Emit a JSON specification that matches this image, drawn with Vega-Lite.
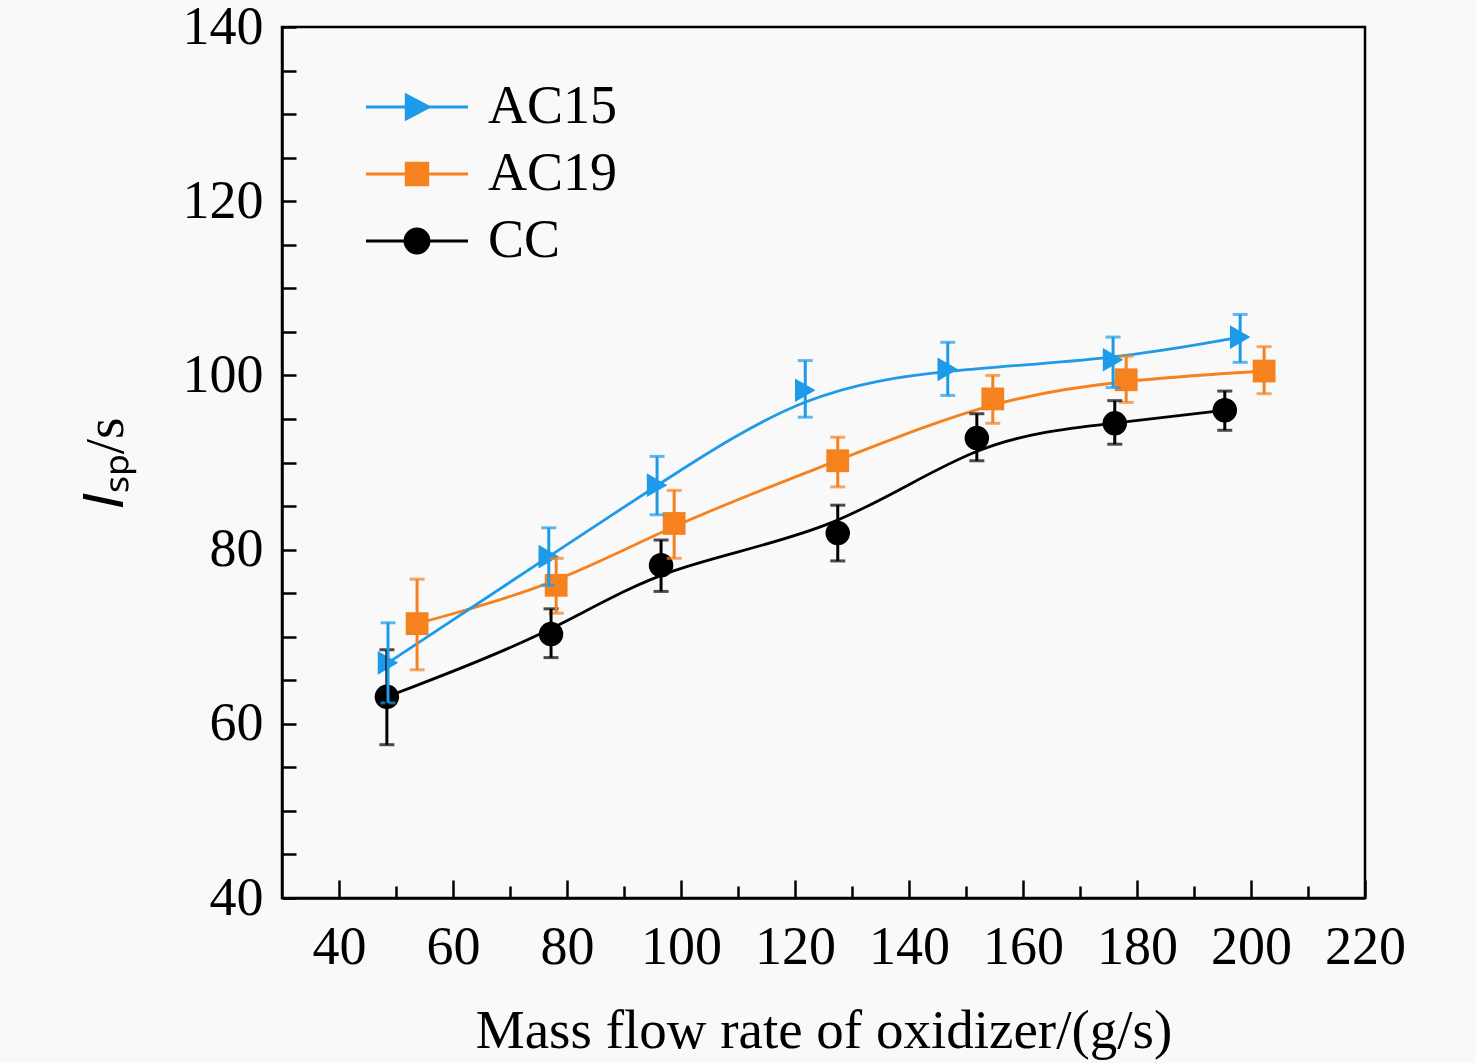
{
  "$schema": "https://vega.github.io/schema/vega-lite/v6.json",
  "width": 1083,
  "height": 871,
  "autosize": "none",
  "padding": {"left": 282, "top": 27, "right": 111, "bottom": 165},
  "background": "#f9f9f9",
  "config": {
    "view": {"stroke": "black", "strokeWidth": 2.5},
    "axis": {
      "domainColor": "black",
      "domainWidth": 2.5,
      "tickColor": "black",
      "tickWidth": 2.5,
      "grid": false,
      "labelFont": "Liberation Serif",
      "labelFontSize": 54,
      "labelColor": "black",
      "titleFont": "Liberation Serif",
      "titleFontSize": 55,
      "titleFontWeight": "normal",
      "titleColor": "black"
    }
  },
  "data": {
    "values": [
      {"series": "CC", "x": 48.4, "y": 63.1, "lo": 57.6, "hi": 68.5},
      {"series": "CC", "x": 77.2, "y": 70.3, "lo": 67.6, "hi": 73.2},
      {"series": "CC", "x": 96.5, "y": 78.2, "lo": 75.2, "hi": 81.1},
      {"series": "CC", "x": 127.5, "y": 81.9, "lo": 78.7, "hi": 85.1},
      {"series": "CC", "x": 151.9, "y": 92.8, "lo": 90.2, "hi": 95.6},
      {"series": "CC", "x": 176.1, "y": 94.5, "lo": 92.1, "hi": 97.1},
      {"series": "CC", "x": 195.4, "y": 96.0, "lo": 93.7, "hi": 98.2},
      {"series": "AC19", "x": 53.7, "y": 71.5, "lo": 66.2, "hi": 76.6},
      {"series": "AC19", "x": 78.1, "y": 75.9, "lo": 72.7, "hi": 79.0},
      {"series": "AC19", "x": 98.8, "y": 83.0, "lo": 79.0, "hi": 86.8},
      {"series": "AC19", "x": 127.5, "y": 90.2, "lo": 87.2, "hi": 92.9},
      {"series": "AC19", "x": 154.7, "y": 97.3, "lo": 94.5, "hi": 100.0},
      {"series": "AC19", "x": 178.1, "y": 99.5, "lo": 96.9, "hi": 102.2},
      {"series": "AC19", "x": 202.3, "y": 100.5, "lo": 97.9, "hi": 103.3},
      {"series": "AC15", "x": 48.6, "y": 67.0, "lo": 62.4, "hi": 71.6},
      {"series": "AC15", "x": 76.8, "y": 79.2, "lo": 75.9, "hi": 82.5},
      {"series": "AC15", "x": 95.8, "y": 87.4, "lo": 84.0, "hi": 90.7},
      {"series": "AC15", "x": 121.8, "y": 98.3, "lo": 95.2, "hi": 101.7},
      {"series": "AC15", "x": 146.8, "y": 100.7, "lo": 97.7, "hi": 103.8},
      {"series": "AC15", "x": 175.8, "y": 101.8, "lo": 98.6, "hi": 104.4},
      {"series": "AC15", "x": 198.1, "y": 104.4, "lo": 101.5, "hi": 107.0}
    ]
  },
  "encoding": {
    "x": {
      "field": "x",
      "type": "quantitative",
      "scale": {"domain": [30, 220], "nice": false, "zero": false},
      "title": "Mass flow rate of oxidizer/(g/s)",
      "axis": {
        "values": [40, 50, 60, 70, 80, 90, 100, 110, 120, 130, 140, 150, 160, 170, 180, 190, 200, 210, 220],
        "labelExpr": "datum.value % 20 === 0 ? datum.label : ''",
        "tickSize": {"condition": {"test": "datum.value % 20 === 0", "value": -18}, "value": -12},
        "labelPadding": 40,
        "labelFlush": false,
        "labelOverlap": false,
        "titlePadding": 24
      }
    },
    "color": {
      "field": "series",
      "type": "nominal",
      "scale": {"domain": ["AC15", "AC19", "CC"], "range": ["#1E9BE8", "#F5821F", "#000000"]},
      "legend": {
        "orient": "none",
        "legendX": 108,
        "legendY": 53,
        "title": null,
        "padding": 0,
        "labelFont": "Liberation Serif",
        "labelFontSize": 54,
        "labelColor": "black",
        "labelLimit": 0,
        "labelOffset": 44,
        "rowPadding": 13,
        "symbolSize": 576,
        "symbolStrokeWidth": 2.8,
        "symbolOpacity": 1,
        "encode": {
          "symbols": {
            "update": {
              "shape": {"signal": "datum.value === 'AC15' ? 'M-4.25,0H4.25M-0.9,-1L1,0L-0.9,1Z' : datum.value === 'AC19' ? 'M-4.25,0H4.25M-0.9,-0.9H0.9V0.9H-0.9Z' : 'M-4.25,0H4.25M-1,0A1,1 0 1,0 1,0A1,1 0 1,0 -1,0Z'"},
              "fill": {"scale": "color", "field": "value"},
              "stroke": {"scale": "color", "field": "value"}
            }
          }
        }
      }
    }
  },
  "layer": [
    {
      "mark": {"type": "line", "interpolate": "basis", "strokeWidth": 2.8},
      "encoding": {
        "y": {
          "field": "y",
          "type": "quantitative",
          "scale": {"domain": [40, 140], "nice": false, "zero": false},
          "title": "𝐼ₛₚ/s",
          "axis": {
            "values": [40, 45, 50, 55, 60, 65, 70, 75, 80, 85, 90, 95, 100, 105, 110, 115, 120, 125, 130, 135, 140],
            "labelExpr": "datum.value % 20 === 0 ? datum.label : ''",
            "tickSize": -14,
            "labelPadding": 33,
            "labelFlush": false,
            "labelOverlap": false,
            "titlePadding": 48
          }
        }
      }
    },
    {
      "transform": [{"filter": "datum.series === 'CC'"}],
      "mark": {"type": "point", "shape": "circle", "filled": true, "opacity": 1, "size": 600},
      "encoding": {"y": {"field": "y", "type": "quantitative", "title": "𝐼ₛₚ/s"}}
    },
    {
      "transform": [{"filter": "datum.series === 'AC19'"}],
      "mark": {"type": "point", "shape": "square", "filled": true, "opacity": 1, "size": 520},
      "encoding": {"y": {"field": "y", "type": "quantitative", "title": "𝐼ₛₚ/s"}}
    },
    {
      "transform": [{"filter": "datum.series === 'AC15'"}],
      "mark": {"type": "point", "shape": "triangle-right", "filled": true, "opacity": 1, "size": 560},
      "encoding": {"y": {"field": "y", "type": "quantitative", "title": "𝐼ₛₚ/s"}}
    },
    {
      "mark": {
        "type": "errorbar",
        "rule": {"strokeWidth": 3},
        "ticks": {"size": 15, "thickness": 3}
      },
      "encoding": {
        "y": {"field": "lo", "type": "quantitative", "title": "𝐼ₛₚ/s"},
        "y2": {"field": "hi"}
      }
    }
  ]
}
